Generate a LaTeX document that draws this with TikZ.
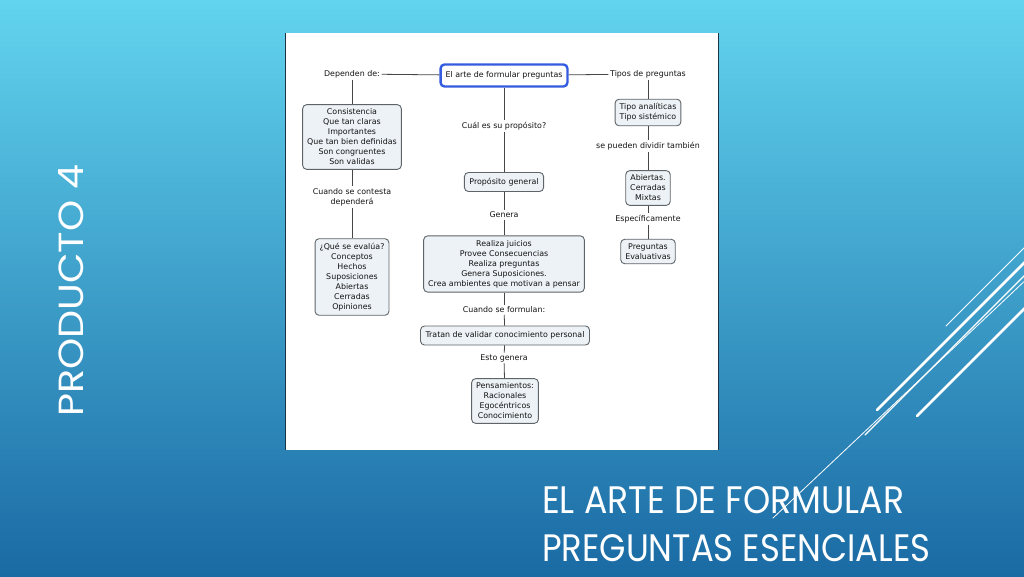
\documentclass[tikz,border=0pt]{standalone}
\usepackage{fontspec}
\setmainfont{DejaVu Sans}
\newfontfamily\titlefont{Poppins}
\newcommand\mapfont{\fontsize{7.9}{10}\selectfont}
\definecolor{bgtop}{RGB}{98,212,239}
\definecolor{bgmid}{RGB}{58,160,208}
\definecolor{bgbot}{RGB}{26,106,164}
\definecolor{boxfill}{RGB}{236,242,246}
\definecolor{boxline}{RGB}{95,100,105}
\definecolor{linkc}{RGB}{70,70,70}
\definecolor{mainblue}{RGB}{52,92,222}
\definecolor{maptext}{RGB}{20,20,20}
\definecolor{paneledge}{RGB}{30,50,70}
\begin{document}
\begin{tikzpicture}[x=1pt,y=-1pt,
  cbox/.style={draw=boxline, fill=boxfill, rounded corners=4pt, line width=0.9pt,
    align=center, font=\mapfont, text=maptext, inner xsep=4.5pt, inner ysep=4.3pt},
  onebox/.style={cbox, minimum height=19pt, inner xsep=5pt},
  mainbox/.style={draw=mainblue, fill=white, rounded corners=4pt, line width=2.4pt,
    font=\mapfont, text=maptext, inner xsep=5pt, minimum height=22pt},
  lbl/.style={font=\mapfont, text=maptext, align=center, inner sep=1.5pt},
  link/.style={draw=linkc, line width=0.8pt},
  deco/.style={draw=white, line cap=round},
  bigtext/.style={text=white, inner sep=0pt}
]
\useasboundingbox (0,0) rectangle (1024,576);
\shade[top color=bgtop, middle color=bgmid, bottom color=bgbot] (0,0) rectangle (1024,576);

% panel
\fill[white] (285,33) rectangle (719,450);
\draw[paneledge, line width=1.2pt] (285.6,33) -- (285.6,450);
\draw[paneledge, line width=1.2pt] (718.4,33) -- (718.4,450);

% nodes
\node[mainbox] (root) at (504,75.5) {El arte de formular preguntas};
\node[lbl] (dep) at (352,74) {Dependen de:};
\node[cbox] (cons) at (352,137) {Consistencia\\Que tan claras\\Importantes\\Que tan bien definidas\\Son congruentes\\Son validas};
\node[lbl] (cuando) at (352,197) {Cuando se contesta\\dependerá};
\node[cbox] (eval) at (352,277) {¿Qué se evalúa?\\Conceptos\\Hechos\\Suposiciones\\Abiertas\\Cerradas\\Opiniones};
\node[lbl] (cual) at (504,126) {Cuál es su propósito?};
\node[onebox] (prop) at (504,182) {Propósito general};
\node[lbl] (genera) at (504,215) {Genera};
\node[cbox] (realiza) at (504,264) {Realiza juicios\\Provee Consecuencias\\Realiza preguntas\\Genera Suposiciones.\\Crea ambientes que motivan a pensar};
\node[lbl] (formulan) at (504,310) {Cuando se formulan:};
\node[onebox] (tratan) at (505,335.5) {Tratan de validar conocimiento personal};
\node[lbl] (esto) at (504,358) {Esto genera};
\node[cbox] (pens) at (505,401) {Pensamientos:\\Racionales\\Egocéntricos\\Conocimiento};
\node[lbl] (tipos) at (648,74) {Tipos de preguntas};
\node[cbox] (tipo) at (648,112.5) {Tipo analíticas\\Tipo sistémico};
\node[lbl] (dividir) at (648,146) {se pueden dividir también};
\node[cbox] (abiertas) at (648,188) {Abiertas.\\Cerradas\\Mixtas};
\node[lbl] (espec) at (648,219) {Específicamente};
\node[cbox] (evalua) at (648,251.5) {Preguntas\\Evaluativas};

% connectors
\draw[link] (root) -- (dep);
\draw[link] (dep) -- (cons);
\draw[link] (cons) -- (cuando);
\draw[link] (cuando) -- (eval);
\draw[link] (root) -- (cual);
\draw[link] (cual) -- (prop);
\draw[link] (prop) -- (genera);
\draw[link] (genera) -- (realiza);
\draw[link] (realiza) -- (formulan);
\draw[link] (formulan) -- (tratan);
\draw[link] (tratan) -- (esto);
\draw[link] (esto) -- (pens);
\draw[link] (root) -- (tipos);
\draw[link] (tipos) -- (tipo);
\draw[link] (tipo) -- (dividir);
\draw[link] (dividir) -- (abiertas);
\draw[link] (abiertas) -- (espec);
\draw[link] (espec) -- (evalua);

% decorative lines
\draw[deco, line width=1pt] (946,326) -- (1030,242);
\draw[deco, line width=2.6pt] (877,410) -- (1030,257);
\draw[deco, line width=1.2pt] (865,435) -- (1030,270);
\draw[deco, line width=0.8pt] (773,518) -- (1030,276);
\draw[deco, line width=2.6pt] (917,416) -- (1030,303);

% titles
\node[bigtext, anchor=base west, rotate=90] (prod) at (83,417) {\resizebox{252pt}{25pt}{\titlefont PRODUCTO 4}};
\node[bigtext, anchor=base west] (t1) at (542,513) {\resizebox{362pt}{27pt}{\titlefont EL ARTE DE FORMULAR}};
\node[bigtext, anchor=base west] (t2) at (542,561) {\resizebox{388pt}{27pt}{\titlefont PREGUNTAS ESENCIALES}};
\end{tikzpicture}
\end{document}
